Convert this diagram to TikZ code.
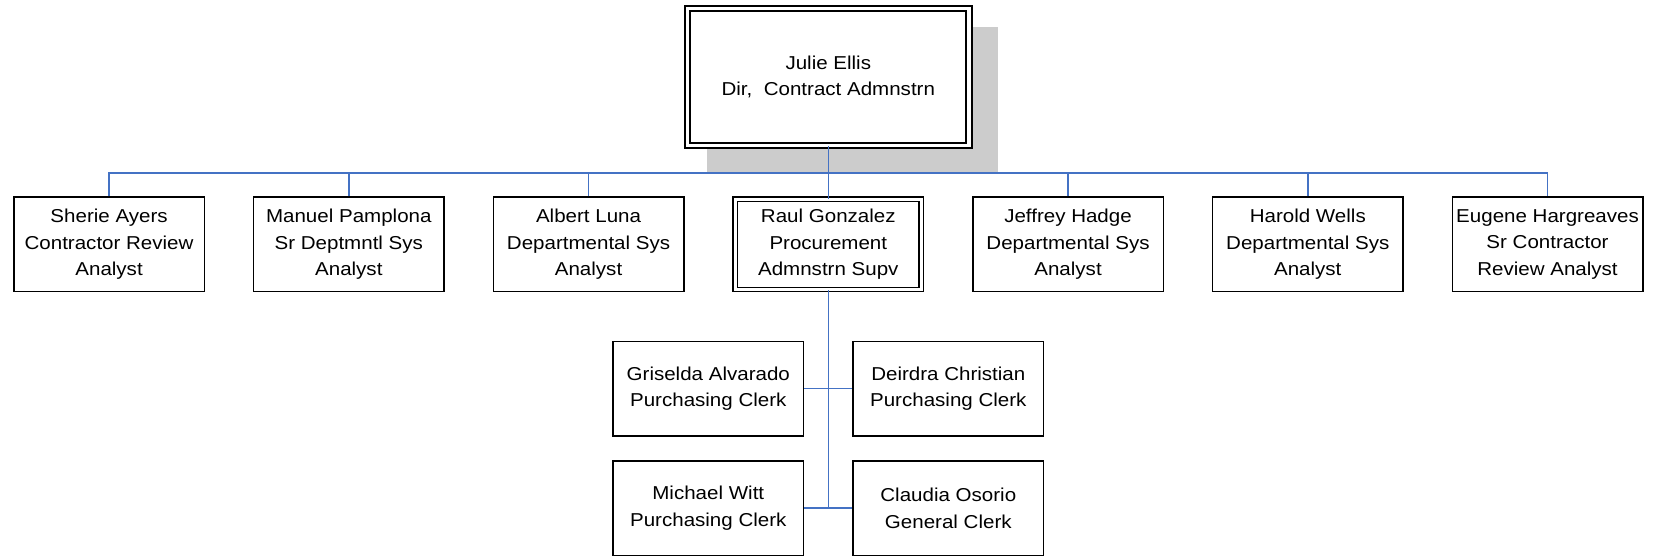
\documentclass[tikz,border=0pt]{standalone}
\usepackage{fontspec}
\setmainfont{Liberation Sans}[FakeStretch=1.1]
\usepackage{xcolor}
\usetikzlibrary{calc,backgrounds,positioning}
\definecolor{linkblue}{RGB}{68,114,196}
\definecolor{shadowgray}{RGB}{204,204,204}

\begin{document}
\begin{tikzpicture}[
    box/.style={draw,fill=white,line width=1.1pt,minimum width=142.9pt,minimum height=70.9pt,inner sep=0pt,align=center,font=\fontsize{14pt}{20pt}\selectfont},
    headbox/.style={box,double,line width=1.2pt,double distance=2pt,minimum width=139.6pt,minimum height=67.6pt},
    link/.style={draw=linkblue,line width=1.2pt}]
    \useasboundingbox (-621.2pt,-359.25pt) rectangle (620pt,57.75pt);
    \begin{scope}[on grid]
        %level 1
        \node[box,double,line width=1.5pt,double distance=2.5pt,minimum width=211pt,minimum height=102.5pt] (level1) {Julie Ellis\\Dir,\ \ Contract Admnstrn};

        %level 2
        \node[headbox,below = 125.6pt of level1] (level24) {Raul Gonzalez\\Procurement\\Admnstrn Supv};
        \node[box,left = 179.8pt of level24] (level23) {Albert Luna\\Departmental Sys\\Analyst};
        \node[box,left = 179.8pt of level23] (level22) {Manuel Pamplona\\Sr Deptmntl Sys\\Analyst};
        \node[box,left = 179.8pt of level22] (level21) {Sherie Ayers\\Contractor Review\\Analyst};
        \node[box,right = 179.8pt of level24] (level25) {Jeffrey Hadge\\Departmental Sys\\Analyst};
        \node[box,right = 179.8pt of level25] (level26) {Harold Wells\\Departmental Sys\\Analyst};
        \node[box,right = 179.8pt of level26] (level27) {Eugene Hargreaves\\Sr Contractor\\Review Analyst};

        %level 3
        \node[box,below left = 108.15pt and 90pt of level24] (level31) {Griselda Alvarado\\Purchasing Clerk};
        \node[box,right = 180pt of level31] (level32) {Deirdra Christian\\Purchasing Clerk};
        \node[box,below = 89.7pt of level31] (level33) {Michael Witt\\Purchasing Clerk};
        \node[box,right = 180pt of level33] (level34) {Claudia Osorio\\General Clerk};
    \end{scope}

    %shadow
    \begin{scope}[on background layer]
        \fill[shadowgray] ($(level1.south west)+(15.25pt,-20pt)$) rectangle ($(level1.north east)+(20.75pt,-14.5pt)$);
    \end{scope}

    %links
    \coordinate (bus) at ($(level1.south)+(0,-20pt)$);
    \draw[link] (level1.south) -- (bus);
    \draw[link] (level21.north) |- (bus) -| (level27.north);
    \foreach \i in {2,3,5,6}
        \draw[link] (level2\i.north) -- (level2\i.north |- bus);
    \draw[link] (bus) -- (level24.north);
    \draw[link] (level24.south) -- (level24.south |- level33.east);
    \draw[link] (level31.east) -- (level32.west);
    \draw[link] (level33.east) -- (level34.west);
\end{tikzpicture}
\end{document}
